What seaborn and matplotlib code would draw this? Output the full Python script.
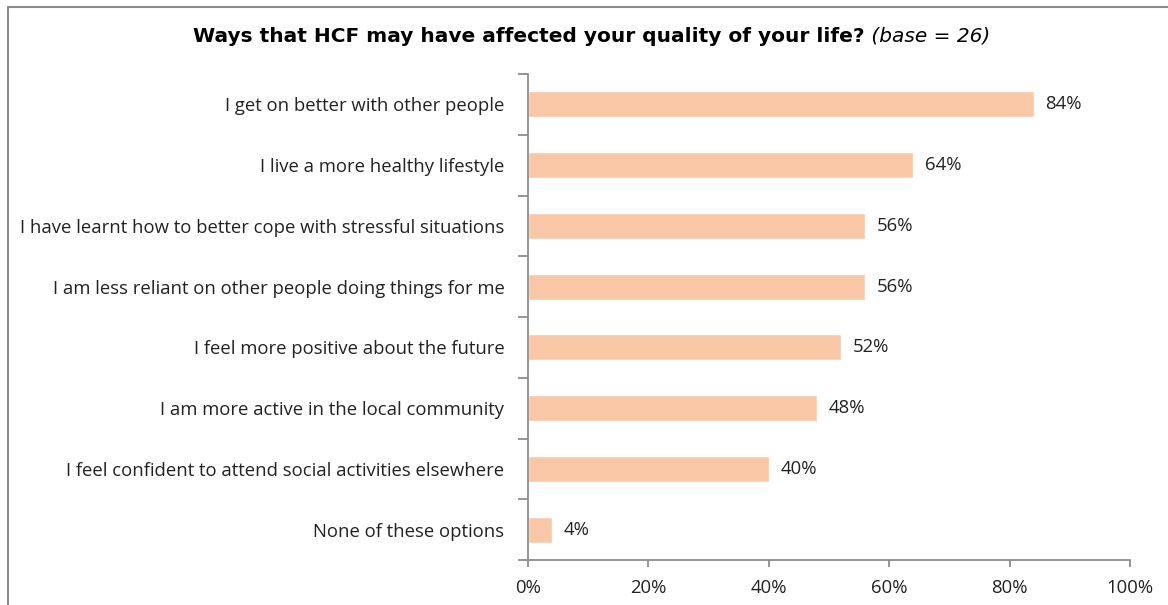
import matplotlib
matplotlib.use("Agg")
import matplotlib.pyplot as plt
import seaborn as sns
import pandas as pd
from matplotlib.patches import Rectangle
from matplotlib.ticker import FuncFormatter

categories = [
    "I get on better with other people",
    "I live a more healthy lifestyle",
    "I have learnt how to better cope with stressful situations",
    "I am less reliant on other people doing things for me",
    "I feel more positive about the future",
    "I am more active in the local community",
    "I feel confident to attend social activities elsewhere",
    "None of these options",
]
values = [84, 64, 56, 56, 52, 48, 40, 4]
x_ticks = [0, 20, 40, 60, 80, 100]

df = pd.DataFrame({"category": categories, "value": values})

sns.set_theme(style="white")
plt.rcParams["font.family"] = ["Open Sans", "DejaVu Sans"]

W, H = 1168, 605
fig = plt.figure(figsize=(W / 100, H / 100), dpi=100)
ax = fig.add_axes([528 / W, 1 - 560 / H, (1130 - 528) / W, (560 - 74) / H])

text_color = "#222222"
axis_color = "#8c8c8c"
label_size = 13.3

sns.barplot(data=df, x="value", y="category", color="#F8C8A6", width=0.43,
            saturation=1, ax=ax, orient="h")

ax.set_xlim(0, 100)
ax.set_ylim(len(categories) - 0.5, -0.5)
ax.set_xticks(x_ticks)
ax.xaxis.set_major_formatter(FuncFormatter(lambda v, _: f"{v:.0f}%"))
ax.set_xlabel("")
ax.set_ylabel("")

# category separators on the y axis
ax.set_yticks(list(range(len(categories))))
ax.set_yticklabels(categories)
ax.set_yticks([i - 0.5 for i in range(len(categories) + 1)], minor=True)
ax.tick_params(axis="y", which="major", left=False, length=0, pad=17,
               labelsize=label_size, labelcolor=text_color)
ax.tick_params(axis="y", which="minor", left=True, length=7, width=1.3,
               color=axis_color, direction="out")
ax.tick_params(axis="x", which="major", bottom=True, length=5, width=1.3,
               color=axis_color, direction="out", labelsize=label_size,
               labelcolor=text_color, pad=9)

for side in ["top", "right"]:
    ax.spines[side].set_visible(False)
for side in ["left", "bottom"]:
    ax.spines[side].set_color(axis_color)
    ax.spines[side].set_linewidth(1.3)

for container in ax.containers:
    ax.bar_label(container, labels=[f"{v}%" for v in values], padding=8.5,
                 fontsize=label_size, color=text_color)

# title: bold question followed by italic base note
title_y = 1 - 36 / H
title_font = ["DejaVu Sans"]
t_main = fig.text(0, title_y, "Ways that HCF may have affected your quality of your life?",
                  ha="left", va="center", fontsize=14.5, fontweight="bold",
                  family=title_font, color="black")
t_note = fig.text(0, title_y, " (base = 26)", ha="left", va="center",
                  fontsize=14.5, fontstyle="italic", family=title_font, color="black")
fig.canvas.draw()
renderer = fig.canvas.get_renderer()
bb_main = t_main.get_window_extent(renderer)
bb_note = t_note.get_window_extent(renderer)
start = (194 + 989) / 2 - (bb_main.width + bb_note.width) / 2
t_main.set_x(start / W)
t_note.set_x((start + bb_main.width) / W)

# outer chart frame
fig.patches.append(Rectangle((7.5 / W, -0.05), 1.2, 1 - 7 / H + 0.05,
                             transform=fig.transFigure, fill=False,
                             edgecolor=axis_color, linewidth=1.5))

fig.savefig("out.png", dpi=100)
